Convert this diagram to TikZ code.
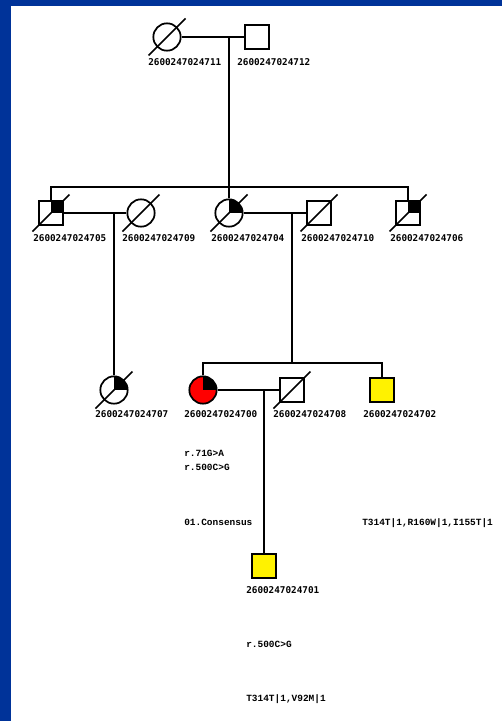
\documentclass[tikz,border=0pt]{standalone}
\usepackage{fontspec}
\newfontfamily\idfont{DejaVu Sans Mono}
\newfontfamily\gtfont{Liberation Mono}
\definecolor{frameblue}{RGB}{0,51,153}
\tikzset{
  fem/.style={circle, draw=black, line width=1.3pt, minimum size=20.5pt, inner sep=0pt, fill=white},
  mal/.style={rectangle, draw=black, line width=1.3pt, minimum size=18.5pt, inner sep=0pt, fill=white},
  quad/.style={path picture={\fill[black] (path picture bounding box.center) rectangle (path picture bounding box.north east);}},
  link/.style={line width=1.2pt, draw=black},
  slash/.style={line width=1.2pt, draw=black},
  idlab/.style={anchor=base west, inner sep=0pt, font=\idfont\bfseries\fontsize{7}{8}\selectfont},
  gt/.style={anchor=base west, inner sep=0pt, font=\gtfont\bfseries\fontsize{7.1}{8}\selectfont}
}
\begin{document}
\begin{tikzpicture}[x=0.75pt,y=-0.75pt]
\useasboundingbox (0,0) rectangle (502,721);
\fill[frameblue] (0,0) rectangle (502,721);
\fill[white] (11,6) rectangle (502,721);

% generation 1
\node[fem] (n711) at (167,37) {};
\node[mal] (n712) at (257,37) {};
\draw[slash] ([shift={(-18.5,18.5)}]n711.center) -- ([shift={(18.5,-18.5)}]n711.center);
\node[idlab] (l711) at (148,65) {2600247024711};
\node[idlab] (l712) at (237,65) {2600247024712};

% generation 2
\node[mal,quad] (n705) at (51,213) {};
\node[fem] (n709) at (141,213) {};
\node[fem,quad] (n704) at (229,213) {};
\node[mal] (n710) at (319,213) {};
\node[mal,quad] (n706) at (408,213) {};
\foreach \n in {n705,n709,n704,n710,n706}{
  \draw[slash] ([shift={(-18.5,18.5)}]\n.center) -- ([shift={(18.5,-18.5)}]\n.center);
}
\node[idlab] (l705) at (33,241) {2600247024705};
\node[idlab] (l709) at (122,241) {2600247024709};
\node[idlab] (l704) at (211,241) {2600247024704};
\node[idlab] (l710) at (301,241) {2600247024710};
\node[idlab] (l706) at (390,241) {2600247024706};

% generation 3
\node[fem,quad] (n707) at (114,390) {};
\node[fem,quad,fill=red] (n700) at (203,390) {};
\node[mal] (n708) at (292,390) {};
\node[mal,fill=yellow] (n702) at (382,390) {};
\draw[slash] ([shift={(-18.5,18.5)}]n707.center) -- ([shift={(18.5,-18.5)}]n707.center);
\draw[slash] ([shift={(-18.5,18.5)}]n708.center) -- ([shift={(18.5,-18.5)}]n708.center);
\node[idlab] (l707) at (95,417) {2600247024707};
\node[idlab] (l700) at (184,417) {2600247024700};
\node[idlab] (l708) at (273,417) {2600247024708};
\node[idlab] (l702) at (363,417) {2600247024702};

% generation 4
\node[mal,fill=yellow] (n701) at (264,566) {};
\node[idlab] (l701) at (246,593) {2600247024701};

% connectors
\coordinate (m1) at (229,37);
\draw[link] (n711.east) -- (n712.west);
\draw[link] (m1) -- (n704.north);
\coordinate (s2l) at (51,187);
\coordinate (s2r) at (408,187);
\draw[link] (n705.north) -- (s2l) -- (s2r) -- (n706.north);

\draw[link] (n705.east) -- (n709.west);
\coordinate (m2) at (114,213);
\draw[link] (m2) -- (n707.north);

\draw[link] (n704.east) -- (n710.west);
\coordinate (m3) at (292,213);
\coordinate (s3m) at (292,363);
\draw[link] (m3) -- (s3m);
\coordinate (s3l) at (203,363);
\coordinate (s3r) at (382,363);
\draw[link] (n700.north) -- (s3l) -- (s3r) -- (n702.north);

\draw[link] (n700.east) -- (n708.west);
\coordinate (m4) at (264,390);
\draw[link] (m4) -- (n701.north);

% genotype texts
\node[gt] (g1) at (184,456) {r.71G>A};
\node[gt] (g2) at (184,470) {r.500C>G};
\node[gt] (g3) at (184,525) {01.Consensus};
\node[gt] (g4) at (362,525) {T314T|1,R160W|1,I155T|1};
\node[gt] (g5) at (246,647) {r.500C>G};
\node[gt] (g6) at (246,701) {T314T|1,V92M|1};
\end{tikzpicture}
\end{document}
